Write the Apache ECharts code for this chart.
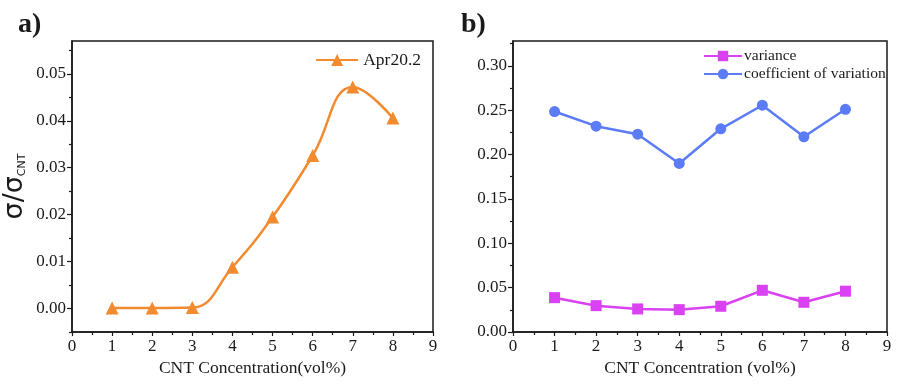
<!DOCTYPE html>
<html><head><meta charset="utf-8">
<script src="https://cdn.jsdelivr.net/npm/echarts@6/dist/echarts.min.js"></script>
<style>html,body{margin:0;padding:0;background:#fff}#c{width:901px;height:390px}</style>
</head><body><div id="c"></div>
<script>
const xValues = [1, 2, 3, 4, 5, 6, 7, 8];
const ratioApr = [0.0001, 0.0001, 0.0002, 0.0088, 0.0195, 0.0326, 0.0472, 0.0406];
const variance = [0.0387, 0.0297, 0.0260, 0.0252, 0.0290, 0.0470, 0.0335, 0.0460];
const coefVar = [0.2485, 0.2320, 0.2230, 0.1900, 0.2290, 0.2556, 0.2200, 0.2510];
const yTicksA = [0, 0.01, 0.02, 0.03, 0.04, 0.05];
const yMinorA = [-0.005, 0.005, 0.015, 0.025, 0.035, 0.045, 0.055];
const yTicksB = [0, 0.05, 0.10, 0.15, 0.20, 0.25, 0.30];
const yMinorB = [0.025, 0.075, 0.125, 0.175, 0.225, 0.275, 0.325];

const SERIF = '"Liberation Serif", "Times New Roman", serif';
const INK = '#1a1a1a';
const ORANGE = '#F28A30';
const MAGENTA = '#D941F2';
const BLUE = '#5B7BF7';

function pairs(ys) { return xValues.map((x, i) => [x, ys[i]]); }

const chart = echarts.init(document.getElementById('c'), null, {renderer: 'canvas'});

function xAxisDef(gridIndex, name) {
  return {
    type: 'value', gridIndex, min: 0, max: 9, interval: 1,
    name, nameLocation: 'middle', nameGap: 26,
    nameTextStyle: {fontFamily: SERIF, fontSize: 17.5, color: INK},
    axisLine: {show: true, onZero: false, lineStyle: {color: INK, width: 1.5}},
    axisTick: {show: true, inside: false, length: 4, lineStyle: {color: INK, width: 1.2}},
    minorTick: {show: true, splitNumber: 2, length: 3, lineStyle: {color: INK, width: 1.2}},
    axisLabel: {fontFamily: SERIF, fontSize: 17, color: INK, margin: 6},
    splitLine: {show: false}
  };
}

function yMainDef(gridIndex, min, max, ticks, digits, nameOpt) {
  const o = {
    type: 'value', gridIndex, min, max,
    axisLine: {show: true, onZero: false, lineStyle: {color: INK, width: 1.5}},
    axisTick: {show: true, inside: false, length: 5, customValues: ticks, lineStyle: {color: INK, width: 1.2}},
    axisLabel: {fontFamily: SERIF, fontSize: 17, color: INK, margin: 6, customValues: ticks,
      formatter: v => Number(v).toFixed(digits)},
    splitLine: {show: false}
  };
  return Object.assign(o, nameOpt || {});
}

function yMinorDef(gridIndex, min, max, ticks) {
  return {
    type: 'value', gridIndex, min, max,
    axisLine: {show: false},
    axisTick: {show: true, inside: true, length: 3, customValues: ticks, lineStyle: {color: INK, width: 1.2}},
    axisLabel: {show: false, customValues: ticks},
    splitLine: {show: false}
  };
}

const option = {
  animation: false,
  backgroundColor: '#ffffff',
  title: [
    {text: 'a)', left: 13, top: 6, textStyle: {fontFamily: SERIF, fontWeight: 'bold', fontSize: 28, color: INK}},
    {text: 'b)', left: 456, top: 6, textStyle: {fontFamily: SERIF, fontWeight: 'bold', fontSize: 28, color: INK}}
  ],
  grid: [
    {left: 70, top: 41, width: 363, height: 291, show: true, borderColor: INK, borderWidth: 1.5, backgroundColor: 'transparent'},
    {left: 513, top: 41, width: 374, height: 291, show: true, borderColor: INK, borderWidth: 1.5, backgroundColor: 'transparent'}
  ],
  xAxis: [
    xAxisDef(0, 'CNT Concentration(vol%)'),
    xAxisDef(1, 'CNT Concentration (vol%)')
  ],
  yAxis: [
    yMainDef(0, -0.005, 0.057, yTicksA, 2, {
      name: '{a|σ/σ}{b|CNT}', nameLocation: 'middle', nameGap: 44, nameRotate: 90,
      nameTextStyle: {rich: {
        a: {fontFamily: '"DejaVu Sans", sans-serif', fontSize: 27, color: INK},
        b: {fontFamily: '"DejaVu Sans", sans-serif', fontSize: 11, color: INK, verticalAlign: 'bottom', padding: [14, 0, 0, 0]}
      }}
    }),
    yMinorDef(0, -0.005, 0.057, yMinorA),
    yMainDef(1, 0, 0.328, yTicksB, 2),
    yMinorDef(1, 0, 0.328, yMinorB)
  ],
  legend: [
    {
      data: ['Apr20.2'], right: 475, top: 46, itemWidth: 42, itemHeight: 15,
      textStyle: {fontFamily: SERIF, fontSize: 17.5, color: INK}, itemGap: 4
    },
    {
      data: ['variance', 'coefficient of variation'], left: 698, top: 43, orient: 'vertical',
      itemWidth: 38, itemHeight: 13, itemGap: 2,
      textStyle: {fontFamily: SERIF, fontSize: 15.5, color: INK, padding: [0, 0, 0, -3]}
    }
  ],
  series: [
    {
      name: 'Apr20.2', type: 'line', xAxisIndex: 0, yAxisIndex: 0, data: pairs(ratioApr),
      smooth: 0.45, symbol: 'triangle', symbolSize: 13,
      lineStyle: {color: ORANGE, width: 2.5}, itemStyle: {color: ORANGE}
    },
    {
      name: 'variance', type: 'line', xAxisIndex: 1, yAxisIndex: 2, data: pairs(variance),
      symbol: 'rect', symbolSize: 11,
      lineStyle: {color: MAGENTA, width: 2.5}, itemStyle: {color: MAGENTA}
    },
    {
      name: 'coefficient of variation', type: 'line', xAxisIndex: 1, yAxisIndex: 2, data: pairs(coefVar),
      symbol: 'circle', symbolSize: 11,
      lineStyle: {color: BLUE, width: 2.5}, itemStyle: {color: BLUE}
    }
  ]
};
chart.setOption(option);
</script></body></html>
